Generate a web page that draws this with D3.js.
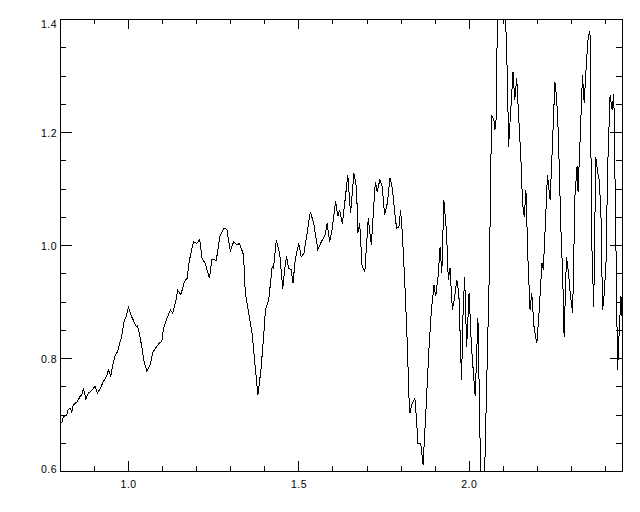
<!DOCTYPE html>
<html>
<head>
<meta charset="utf-8">
<script src="https://cdn.jsdelivr.net/npm/d3@7"></script>
<style>
  html, body { margin: 0; padding: 0; background: #fff; }
  svg { display: block; }
  text { font-family: "Liberation Sans", Arial, sans-serif; font-size: 10.5px; fill: #000; }
</style>
</head>
<body>
<svg id="chart" width="640" height="512"></svg>
<script>
// ---- data ----
const wavelength = [
0.805,0.810,0.820,0.824,0.831,0.834,0.839,0.851,0.859,0.864,0.869,0.876,0.883,0.893,0.903,0.910,0.918,0.927,0.937,0.942,
0.949,0.955,0.962,0.969,0.974,0.981,0.988,0.994,1.001,1.008,1.016,1.024,1.027,1.033,1.040,1.047,1.055,1.065,1.073,1.084,
1.092,1.099,1.104,1.114,1.124,1.131,1.141,1.145,1.155,1.165,1.173,1.180,1.192,1.202,1.210,1.217,1.226,1.239,1.246,1.259,
1.269,1.282,1.290,1.300,1.310,1.320,1.327,1.334,1.339,1.344,1.354,1.364,1.374,1.381,1.390,1.400,1.403,1.413,1.423,1.427,
1.435,1.445,1.454,1.459,1.465,1.471,1.479,1.484,1.491,1.501,1.508,1.516,1.524,1.535,1.545,1.557,1.570,1.579,1.584,1.592,
1.599,1.609,1.616,1.621,1.629,1.638,1.645,1.653,1.663,1.671,1.674,1.680,1.687,1.695,1.705,1.714,1.721,1.726,1.731,1.739,
1.746,1.753,1.761,1.769,1.776,1.782,1.788,1.795,1.800,1.805,1.812,1.820,1.824,1.827,1.834,1.842,1.846,1.851,1.859,1.866,
1.874,1.883,1.890,1.898,1.903,1.910,1.916,1.921,1.927,1.935,1.940,1.945,1.952,1.959,1.965,1.971,1.979,1.983,1.988,1.994,
2.001,2.008,2.019,2.027,2.033,2.035,2.045,2.053,2.061,2.067,2.074,2.077,2.082,2.084,2.104,2.109,2.114,2.117,2.124,2.130,
2.135,2.141,2.145,2.153,2.158,2.163,2.168,2.174,2.180,2.185,2.192,2.200,2.207,2.215,2.219,2.226,2.231,2.239,2.246,2.253,
2.258,2.263,2.271,2.276,2.280,2.287,2.292,2.298,2.305,2.312,2.318,2.321,2.327,2.334,2.339,2.346,2.351,2.356,2.361,2.367,
2.373,2.379,2.383,2.388,2.393,2.398,2.403,2.408,2.415,2.421,2.426,2.432,2.437,2.442,2.447,2.452
];
const flux = [
0.684,0.696,0.699,0.709,0.711,0.703,0.717,0.723,0.732,0.735,0.746,0.727,0.738,0.742,0.750,0.738,0.746,0.758,0.768,0.779,
0.768,0.788,0.805,0.811,0.823,0.838,0.864,0.873,0.890,0.876,0.866,0.855,0.857,0.844,0.820,0.793,0.777,0.788,0.811,0.820,
0.827,0.829,0.853,0.870,0.885,0.879,0.903,0.920,0.912,0.935,0.941,0.973,1.006,1.003,1.010,0.976,0.968,0.941,0.975,0.973,
1.015,1.030,1.027,0.990,1.006,1.000,1.003,0.991,0.982,0.915,0.879,0.844,0.779,0.735,0.779,0.855,0.885,0.904,0.962,0.959,
1.009,0.985,0.923,0.953,0.981,0.959,0.956,0.932,0.976,1.003,0.979,0.985,1.015,1.059,1.038,0.992,1.009,1.018,1.038,1.006,
1.027,1.077,1.051,1.062,1.038,1.085,1.124,1.056,1.127,1.100,1.021,1.038,0.962,0.953,1.047,1.000,1.068,1.112,1.094,1.115,
1.103,1.053,1.074,1.119,1.100,1.062,1.030,1.032,1.062,1.021,0.938,0.820,0.738,0.702,0.720,0.729,0.696,0.649,0.649,0.611,
0.702,0.814,0.882,0.929,0.909,0.944,0.997,0.950,1.080,1.021,0.938,0.959,0.885,0.909,0.938,0.915,0.761,0.873,0.944,0.820,
0.915,0.820,0.732,0.870,0.667,0.550,0.550,0.761,0.965,1.230,1.221,1.204,1.233,1.450,1.450,1.386,1.286,1.174,1.245,1.307,
1.257,1.295,1.245,1.156,1.074,1.050,1.097,0.973,0.885,0.915,0.853,0.826,0.885,0.968,0.956,1.050,1.124,1.080,1.180,1.289,
1.262,1.198,1.021,0.944,0.838,0.979,0.956,0.915,0.879,1.088,1.139,1.094,1.186,1.301,1.251,1.327,1.369,1.378,1.009,0.891,
1.156,1.127,1.115,1.062,0.885,0.915,0.968,1.139,1.265,1.239,1.268,1.009,0.779,0.850,0.909,0.853
];
const xMajorTicks = [1.0, 1.5, 2.0];
const xMinorTicks = [0.8, 0.9, 1.1, 1.2, 1.3, 1.4, 1.6, 1.7, 1.8, 1.9, 2.1, 2.2, 2.3, 2.4];
const yMajorTicks = [0.6, 0.8, 1.0, 1.2, 1.4];
const yMinorTicks = [0.65, 0.7, 0.75, 0.85, 0.9, 0.95, 1.05, 1.1, 1.15, 1.25, 1.3, 1.35];
const xDomain = [0.8, 2.45];
const yDomain = [0.6, 1.4];

// ---- layout ----
const margin = { left: 60, top: 19, right: 18, bottom: 41 };
const W = 640, H = 512;
const iw = W - margin.left - margin.right;   // 562
const ih = H - margin.top - margin.bottom;   // 452

const svg = d3.select("#chart");
const g = svg.append("g").attr("transform", `translate(${margin.left},${margin.top})`);

const x = d3.scaleLinear().domain(xDomain).range([0, iw]);
const y = d3.scaleLinear().domain(yDomain).range([ih, 0]);

svg.append("defs").append("clipPath").attr("id", "clip")
  .append("rect").attr("x", 0).attr("y", 0).attr("width", iw).attr("height", ih);

const fmt = d3.format(".1f");

function styleAxis(sel) {
  sel.select(".domain").remove();
  sel.selectAll(".tick line").attr("stroke", "#000").attr("shape-rendering", "crispEdges");
}

// bottom axis (major with labels)
const bottom = g.append("g").attr("transform", `translate(0,${ih})`)
  .call(d3.axisBottom(x).tickValues(xMajorTicks).tickSize(-10).tickFormat(fmt));
styleAxis(bottom);
bottom.selectAll("text").attr("y", 17).attr("dy", null).style("letter-spacing", "0.5px");
g.append("g").attr("transform", `translate(0,${ih})`)
  .call(d3.axisBottom(x).tickValues(xMinorTicks).tickSize(-5).tickFormat(""))
  .call(styleAxis);

// top axis (no labels)
g.append("g")
  .call(d3.axisTop(x).tickValues(xMajorTicks).tickSize(-10).tickFormat(""))
  .call(styleAxis);
g.append("g")
  .call(d3.axisTop(x).tickValues(xMinorTicks).tickSize(-5).tickFormat(""))
  .call(styleAxis);

// left axis
const left = g.append("g")
  .call(d3.axisLeft(y).tickValues(yMajorTicks).tickSize(-12).tickFormat(fmt));
styleAxis(left);
left.selectAll("text")
  .attr("x", -3)
  .attr("dy", null)
  .attr("y", d => {
    const py = y(d);
    const c = Math.max(5, Math.min(ih - 2, py + 1));
    return c - py + 3.7;
  })
  .style("letter-spacing", "0.5px");
g.append("g")
  .call(d3.axisLeft(y).tickValues(yMinorTicks).tickSize(-6).tickFormat(""))
  .call(styleAxis);

// right axis
g.append("g").attr("transform", `translate(${iw},0)`)
  .call(d3.axisRight(y).tickValues(yMajorTicks).tickSize(-12).tickFormat(""))
  .call(styleAxis);
g.append("g").attr("transform", `translate(${iw},0)`)
  .call(d3.axisRight(y).tickValues(yMinorTicks).tickSize(-6).tickFormat(""))
  .call(styleAxis);

// frame
g.append("rect").attr("x", 0).attr("y", 0).attr("width", iw).attr("height", ih)
  .attr("fill", "none").attr("stroke", "#000").attr("stroke-width", 1)
  .attr("shape-rendering", "crispEdges");

// spectrum line
const pts = wavelength.map((w, i) => [w, flux[i]]);
const line = d3.line().x(d => x(d[0])).y(d => y(d[1]));
g.append("path").datum(pts)
  .attr("clip-path", "url(#clip)")
  .attr("fill", "none")
  .attr("stroke", "#000")
  .attr("stroke-width", 1)
  .attr("shape-rendering", "crispEdges")
  .attr("d", line);
</script>
</body>
</html>
